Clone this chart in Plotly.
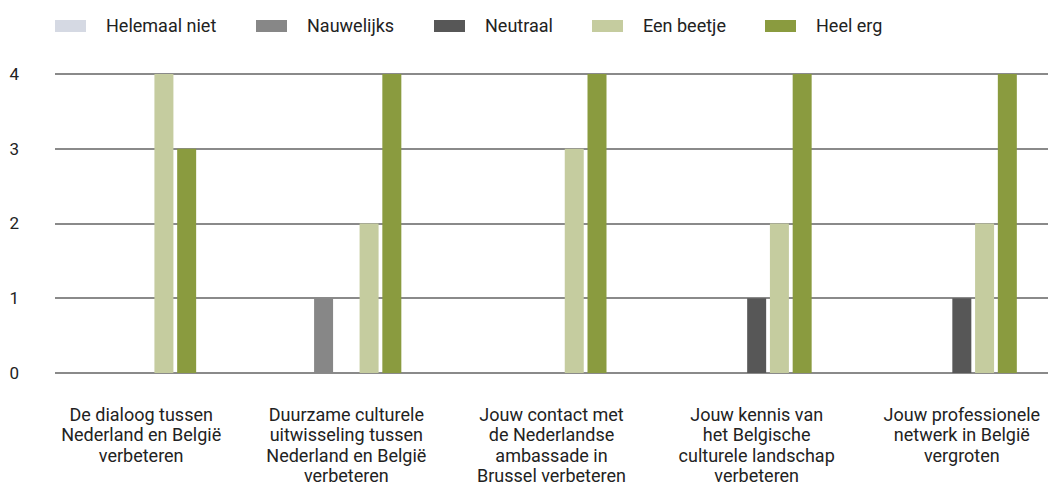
import plotly.graph_objects as go

# ---- data ----
category_lines = [
    ["De dialoog tussen", "Nederland en België", "verbeteren"],
    ["Duurzame culturele", "uitwisseling tussen", "Nederland en België", "verbeteren"],
    ["Jouw contact met", "de Nederlandse", "ambassade in", "Brussel verbeteren"],
    ["Jouw kennis van", "het Belgische", "culturele landschap", "verbeteren"],
    ["Jouw professionele", "netwerk in België", "vergroten"],
]
categories = [" ".join(l) for l in category_lines]

series_names = ["Helemaal niet", "Nauwelijks", "Neutraal", "Een beetje", "Heel erg"]
helemaal_niet = [0, 0, 0, 0, 0]
nauwelijks = [0, 1, 0, 0, 0]
neutraal = [0, 0, 0, 1, 1]
een_beetje = [4, 2, 3, 2, 2]
heel_erg = [3, 4, 4, 4, 4]
series_values = [helemaal_niet, nauwelijks, neutraal, een_beetje, heel_erg]
series_colors = ["#D5D9E3", "#878787", "#575757", "#C5CC9F", "#8A9B3F"]

y_ticks = [0, 1, 2, 3, 4]

# ---- figure ----
W, H = 1048, 489
ML, MR, MT, MB = 55, 0, 72, 114
FONT = "Roboto, 'Noto Sans', sans-serif"
TXT = "#222222"

fig = go.Figure()
for name, vals, col in zip(series_names, series_values, series_colors):
    fig.add_trace(go.Bar(x=categories, y=vals, name=name, marker=dict(color=col, line=dict(width=0)),
                         showlegend=False, hoverinfo="x+y+name"))

def fmt(lines):
    return "<br>".join(f"<span style='font-size:18px'>{t}</span>" for t in lines)

fig.update_layout(
    width=W, height=H,
    margin=dict(l=ML, r=MR, t=MT, b=MB, autoexpand=False),
    paper_bgcolor="white", plot_bgcolor="white",
    barmode="group", bargap=0.4456, bargroupgap=0.165,
    font=dict(family=FONT, color=TXT, size=18),
)
unit = 74.75
fig.update_xaxes(
    type="category", range=[-0.42, 4.42],
    tickmode="array", tickvals=categories, ticktext=[fmt(l) for l in category_lines],
    tickfont=dict(size=15.8, color=TXT, family=FONT),
    showgrid=False, showline=False, ticks="", ticklabelstandoff=29, automargin=False,
)
fig.update_yaxes(
    range=[-2 / unit, 4 + 2 / unit], tickvals=y_ticks,
    tickfont=dict(size=17, color=TXT, family=FONT),
    showgrid=True, gridcolor="#8a8a8a", gridwidth=1.5,
    zeroline=True, zerolinecolor="#8a8a8a", zerolinewidth=1.5,
    showline=False, ticks="", ticklabelstandoff=35, automargin=False,
)

# ---- legend (drawn as swatches + text) ----
plot_w = W - ML - MR
plot_h = H - MT - MB
def px_x(px):
    return (px - ML) / plot_w
def px_y(py):
    return (H - MB - py) / plot_h

swatch_x = [55, 256, 434, 592, 765]
for name, col, sx in zip(series_names, series_colors, swatch_x):
    fig.add_shape(type="rect", xref="paper", yref="paper",
                  x0=px_x(sx), x1=px_x(sx + 31), y0=px_y(32), y1=px_y(20),
                  fillcolor=col, line=dict(width=0), layer="above")
    fig.add_annotation(xref="paper", yref="paper", x=px_x(sx + 49), y=px_y(25.5),
                       text=name, showarrow=False, xanchor="left", yanchor="middle",
                       font=dict(size=18, color=TXT, family=FONT))

fig.write_html(
    "out.html",
    config={"displayModeBar": False},
    post_script="document.body.style.margin='0';document.body.style.overflow='hidden';",
)
